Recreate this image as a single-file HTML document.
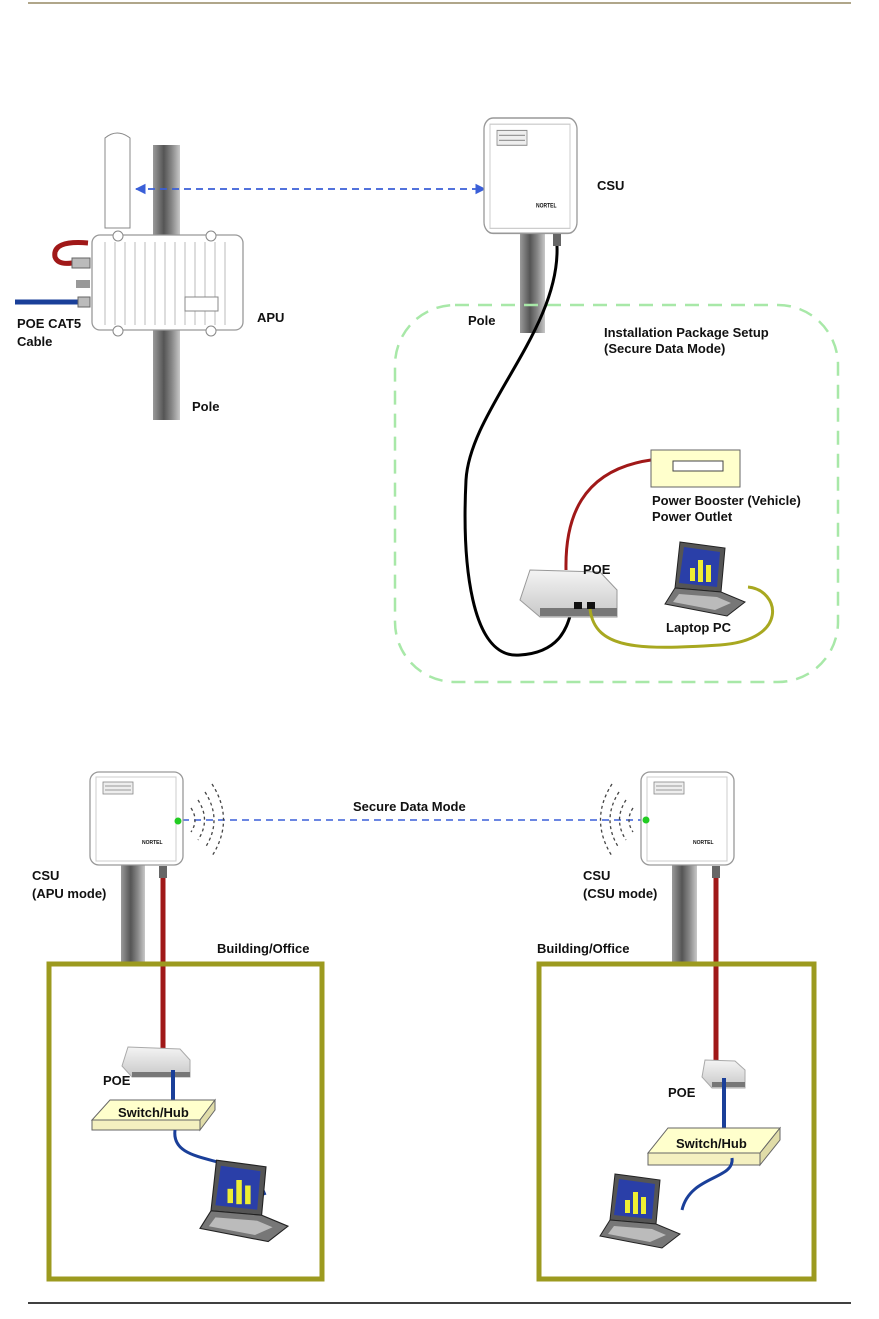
<!DOCTYPE html>
<html><head><meta charset="utf-8"><style>
body{margin:0;background:#fff}
svg{display:block}
text{font-family:"Liberation Sans",sans-serif;font-weight:bold;font-size:13px;fill:#111}
</style></head><body>
<svg width="879" height="1319" viewBox="0 0 879 1319" xmlns="http://www.w3.org/2000/svg">
<defs>
<linearGradient id="pole" x1="0" x2="1">
<stop offset="0" stop-color="#9a9a9a"/><stop offset="0.4" stop-color="#555"/><stop offset="0.7" stop-color="#888"/><stop offset="1" stop-color="#c8c8c8"/></linearGradient>
<linearGradient id="poe" x1="0" x2="0" y1="0" y2="1"><stop offset="0" stop-color="#f4f4f4"/><stop offset="1" stop-color="#c8c8c8"/></linearGradient>
<marker id="ar" viewBox="0 0 10 10" refX="9" refY="5" markerWidth="6" markerHeight="6" orient="auto-start-reverse"><path d="M0,0 L10,5 L0,10 z" fill="#3a5fd8"/></marker>
<g id="csu">
<rect x="0" y="0" width="93" height="93" rx="9" fill="#fff" stroke="#999" stroke-width="1.3"/>
<rect x="6" y="5" width="80" height="84" fill="none" stroke="#ccc"/>
<rect x="13" y="10" width="30" height="12" fill="#eee" stroke="#888" stroke-width="0.8"/>
<line x1="15" y1="14" x2="41" y2="14" stroke="#999"/><line x1="15" y1="18" x2="41" y2="18" stroke="#999"/>
<text x="52" y="72" style="font-size:5px">NORTEL</text>
</g>
<g id="laptop">
<path d="M15,2 L60,8 L56,52 L10,48 Z" fill="#555" stroke="#222"/>
<path d="M19,7 L55,12 L52,47 L14,43 Z" fill="#2a3fa8"/>
<rect x="25" y="28" width="5" height="13" fill="#ee3"/><rect x="33" y="20" width="5" height="22" fill="#ee3"/><rect x="41" y="25" width="5" height="17" fill="#ee3"/>
<path d="M10,48 L56,52 L80,62 L62,76 L0,64 Z" fill="#777" stroke="#222"/>
<path d="M14,54 L52,57 L66,63 L50,70 L8,62 Z" fill="#bbb"/>
</g>
<g id="waves" fill="none" stroke="#444" stroke-width="1.3" stroke-dasharray="3,3">
<path d="M8,-12 Q16,0 8,12"/><path d="M15,-20 Q28,0 15,20"/><path d="M22,-28 Q40,0 22,28"/><path d="M29,-36 Q52,0 29,36"/>
</g>
</defs>

<line x1="28" y1="3" x2="851" y2="3" stroke="#b0a68a" stroke-width="2"/>
<line x1="28" y1="1303" x2="851" y2="1303" stroke="#000" stroke-width="1.5"/>

<rect x="153" y="145" width="27" height="275" fill="url(#pole)"/>
<path d="M105,138 Q117,128 130,138 L130,228 L105,228 Z" fill="#fff" stroke="#888"/>
<rect x="92" y="235" width="151" height="95" rx="8" fill="#fff" stroke="#999" stroke-width="1.3"/>
<g stroke="#bbb"><line x1="105" y1="242" x2="105" y2="325"/><line x1="115" y1="242" x2="115" y2="325"/><line x1="125" y1="242" x2="125" y2="325"/><line x1="135" y1="242" x2="135" y2="325"/><line x1="145" y1="242" x2="145" y2="325"/><line x1="155" y1="242" x2="155" y2="325"/><line x1="165" y1="242" x2="165" y2="325"/><line x1="175" y1="242" x2="175" y2="325"/><line x1="185" y1="242" x2="185" y2="325"/><line x1="195" y1="242" x2="195" y2="325"/><line x1="205" y1="242" x2="205" y2="325"/><line x1="215" y1="242" x2="215" y2="325"/><line x1="225" y1="242" x2="225" y2="325"/></g>
<circle cx="118" cy="236" r="5" fill="#fff" stroke="#888"/><circle cx="211" cy="236" r="5" fill="#fff" stroke="#888"/>
<circle cx="118" cy="331" r="5" fill="#fff" stroke="#888"/><circle cx="211" cy="331" r="5" fill="#fff" stroke="#888"/>
<rect x="185" y="297" width="33" height="14" fill="#fff" stroke="#888"/>
<path d="M88,243 Q52,240 55,257 Q58,265 72,263" fill="none" stroke="#a01818" stroke-width="5"/>
<rect x="72" y="258" width="18" height="10" fill="#bbb" stroke="#666"/>
<rect x="76" y="280" width="14" height="8" fill="#999"/>
<line x1="15" y1="302" x2="80" y2="302" stroke="#1a3f99" stroke-width="5"/>
<rect x="78" y="297" width="12" height="10" fill="#bbb" stroke="#666"/>
<text x="17" y="328">POE CAT5</text><text x="17" y="346">Cable</text>
<text x="257" y="322">APU</text>
<text x="192" y="411">Pole</text>
<line x1="136" y1="189" x2="485" y2="189" stroke="#3a5fd8" stroke-width="1.8" stroke-dasharray="7,5" marker-start="url(#ar)" marker-end="url(#ar)"/>

<rect x="520" y="233" width="25" height="100" fill="url(#pole)"/>
<use href="#csu" x="484" y="118" transform="translate(484,118) scale(1,1.24) translate(-484,-118)"/>
<rect x="553" y="234" width="8" height="12" fill="#666"/>
<text x="597" y="190">CSU</text>
<text x="468" y="325">Pole</text>

<rect x="395" y="305" width="443" height="377" rx="60" fill="none" stroke="#a8e8a8" stroke-width="2.5" stroke-dasharray="14,9"/>
<text x="604" y="337">Installation Package Setup</text>
<text x="604" y="353">(Secure Data Mode)</text>

<path d="M557,246 C560,330 470,410 466,480 C462,560 470,660 520,655 C565,652 568,620 572,610" fill="none" stroke="#000" stroke-width="3"/>
<path d="M566,570 C565,520 580,470 651,460" fill="none" stroke="#a01818" stroke-width="3"/>
<rect x="651" y="450" width="89" height="37" fill="#ffffcc" stroke="#666"/>
<rect x="673" y="461" width="50" height="10" fill="#fff" stroke="#444"/>
<text x="652" y="505">Power Booster (Vehicle)</text><text x="652" y="521">Power Outlet</text>

<path d="M530,570 L600,572 L617,590 L617,617 L540,617 L520,600 Z" fill="url(#poe)" stroke="#999"/>
<rect x="540" y="608" width="77" height="8" fill="#777"/>
<rect x="574" y="602" width="8" height="7" fill="#111"/><rect x="587" y="602" width="8" height="7" fill="#111"/>
<text x="583" y="574">POE</text>
<path d="M590,609 C595,650 640,650 720,645 C790,640 780,590 748,587" fill="none" stroke="#a8a820" stroke-width="3"/>
<use href="#laptop" x="665" y="540"/>
<text x="666" y="632">Laptop PC</text>

<line x1="182" y1="820" x2="665" y2="820" stroke="#3a5fd8" stroke-width="1.5" stroke-dasharray="7,5" marker-end="url(#ar)"/>
<text x="353" y="811">Secure Data Mode</text>

<rect x="121" y="865" width="24" height="97" fill="url(#pole)"/>
<use href="#csu" x="90" y="772"/>
<rect x="159" y="866" width="8" height="12" fill="#666"/>
<line x1="163" y1="878" x2="163" y2="1062" stroke="#a01818" stroke-width="5"/>
<use href="#waves" x="183" y="820"/>
<circle cx="178" cy="821" r="3.5" fill="#2c2"/>
<text x="32" y="880">CSU</text><text x="32" y="898">(APU mode)</text>

<rect x="672" y="865" width="25" height="97" fill="url(#pole)"/>
<use href="#csu" x="641" y="772"/>
<rect x="712" y="866" width="8" height="12" fill="#666"/>
<line x1="716" y1="878" x2="716" y2="1078" stroke="#a01818" stroke-width="5"/>
<use href="#waves" x="641" y="820" transform="translate(1282,0) scale(-1,1)"/>
<circle cx="646" cy="820" r="3.5" fill="#2c2"/>
<text x="583" y="880">CSU</text><text x="583" y="898">(CSU mode)</text>

<rect x="49" y="964" width="273" height="315" fill="none" stroke="#9c9a1f" stroke-width="5"/>
<text x="217" y="953">Building/Office</text>
<rect x="539" y="964" width="275" height="315" fill="none" stroke="#9c9a1f" stroke-width="5"/>
<text x="537" y="953">Building/Office</text>

<path d="M128,1047 L180,1049 L190,1060 L190,1077 L132,1077 L122,1066 Z" fill="url(#poe)" stroke="#aaa"/>
<rect x="132" y="1072" width="58" height="5" fill="#777"/>
<text x="103" y="1085">POE</text>
<path d="M173,1070 L173,1102" stroke="#1a3f99" stroke-width="4" fill="none"/>
<path d="M110,1100 L215,1100 L200,1120 L92,1120 Z" fill="#ffffcc" stroke="#666"/>
<path d="M92,1120 L200,1120 L200,1130 L92,1130 Z" fill="#f4f0c0" stroke="#666"/>
<path d="M200,1120 L215,1100 L215,1110 L200,1130 Z" fill="#e0dca8" stroke="#666"/>
<text x="118" y="1117">Switch/Hub</text>
<path d="M175,1130 C170,1170 250,1150 265,1195" fill="none" stroke="#1a3f99" stroke-width="3"/>
<use href="#laptop" x="200" y="1158" transform="translate(200,1158) scale(1.1) translate(-200,-1158)"/>

<path d="M705,1060 L735,1061 L745,1070 L745,1088 L712,1088 L702,1077 Z" fill="url(#poe)" stroke="#aaa"/>
<rect x="712" y="1082" width="33" height="5" fill="#777"/>
<text x="668" y="1097">POE</text>
<path d="M724,1078 L724,1130" stroke="#1a3f99" stroke-width="4" fill="none"/>
<path d="M668,1128 L780,1128 L760,1153 L648,1153 Z" fill="#ffffcc" stroke="#666"/>
<rect x="648" y="1153" width="112" height="12" fill="#f4f0c0" stroke="#666"/>
<path d="M760,1153 L780,1128 L780,1140 L760,1165 Z" fill="#e0dca8" stroke="#666"/>
<text x="676" y="1148">Switch/Hub</text>
<path d="M732,1158 C735,1180 690,1175 682,1210" fill="none" stroke="#1a3f99" stroke-width="3"/>
<use href="#laptop" x="600" y="1172"/>
</svg>
</body></html>
